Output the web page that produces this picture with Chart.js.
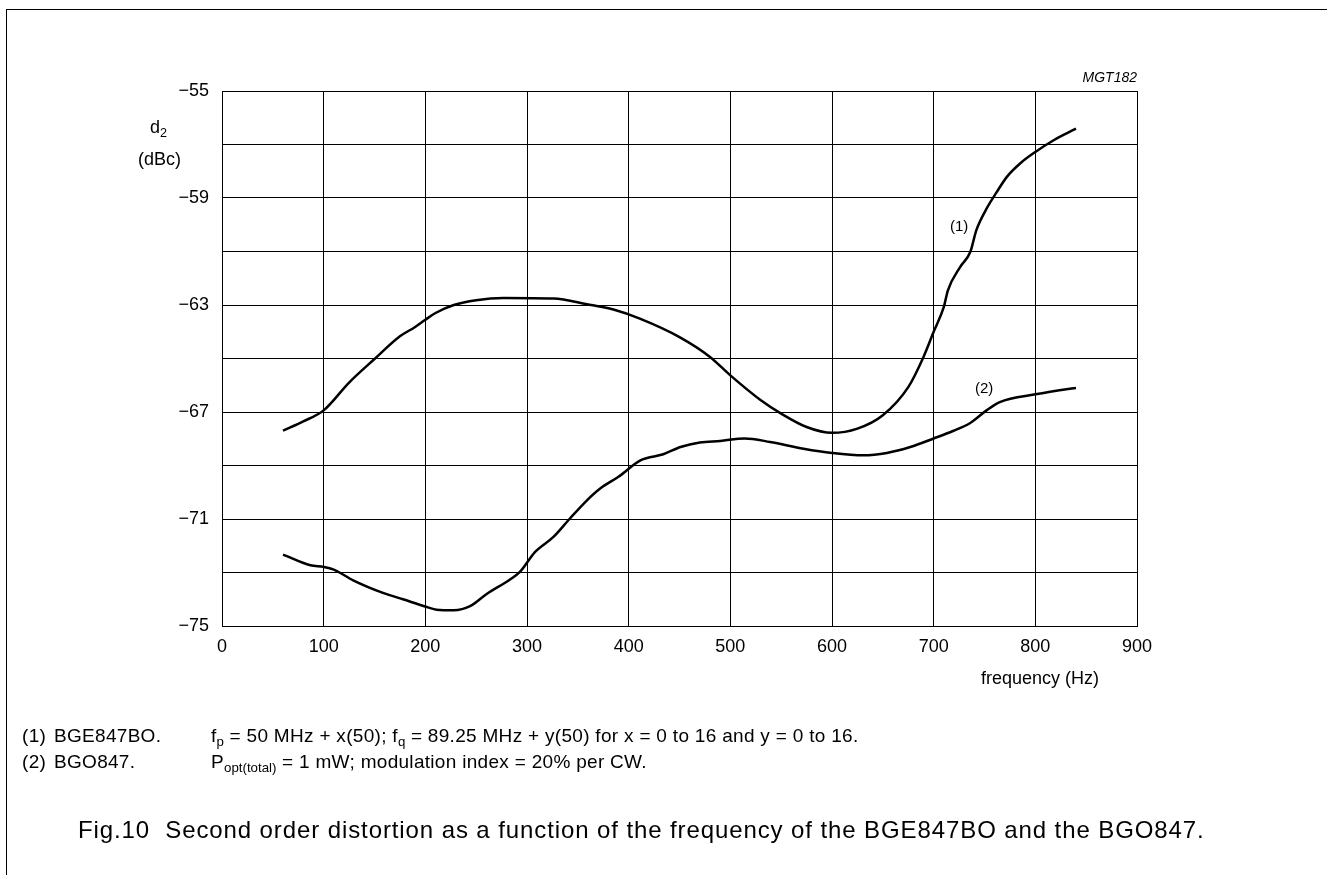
<!DOCTYPE html>
<html>
<head>
<meta charset="utf-8">
<script src="https://cdn.jsdelivr.net/npm/chart.js@4"></script>
<style>
  body { margin: 0; background: #fff; font-family: "Liberation Sans", Arial, sans-serif; color: #000; }
  #wrap { position: relative; width: 1327px; height: 875px; overflow: hidden; }
  #chart { position: absolute; left: 0; top: 0; }
  .t { position: absolute; white-space: nowrap; line-height: 1; }
  .note { font-size: 19px; letter-spacing: 0.3px; }
  .frame-top { position: absolute; left: 6px; top: 9px; width: 1321px; height: 1px; background: #000; }
  .frame-left { position: absolute; left: 6px; top: 9px; width: 1px; height: 866px; background: #000; }
  sub { font-size: 70%; vertical-align: -0.3em; line-height: 0; letter-spacing: 0; }
</style>
</head>
<body>
<div id="wrap">
  <canvas id="chart" width="1327" height="875"></canvas>
  <div class="frame-top"></div>
  <div class="frame-left"></div>

  <div class="t" style="left:1137px; top:70px; font-size:14px; font-style:italic; transform:translateX(-100%);">MGT182</div>
  <div class="t" style="left:150px; top:118px; font-size:18px;">d<sub>2</sub></div>
  <div class="t" style="left:138px; top:150px; font-size:18px;">(dBc)</div>
  <div class="t" style="left:981px; top:669px; font-size:18px;">frequency (Hz)</div>
  <div class="t" style="left:950px; top:218px; font-size:15px;">(1)</div>
  <div class="t" style="left:975px; top:380px; font-size:15px;">(2)</div>

  <div class="t note" style="left:22px; top:726px;">(1)</div>
  <div class="t note" style="left:54px; top:726px;">BGE847BO.</div>
  <div class="t note" style="left:211px; top:726px;">f<sub>p</sub> = 50 MHz + x(50); f<sub>q</sub> = 89.25 MHz + y(50) for x = 0 to 16 and y = 0 to 16.</div>
  <div class="t note" style="left:22px; top:752px;">(2)</div>
  <div class="t note" style="left:54px; top:752px;">BGO847.</div>
  <div class="t note" style="left:211px; top:752px;">P<sub>opt(total)</sub> = 1 mW; modulation index = 20% per CW.</div>

  <div class="t" style="left:78px; top:818px; font-size:24px; letter-spacing:0.9px;">Fig.10&nbsp;&nbsp;Second order distortion as a function of the frequency of the BGE847BO and the BGO847.</div>
</div>

<script>
// curve (1) BGE847BO
const freq1 = [60, 80, 100, 125, 150, 175, 190, 200, 210, 228, 250, 277, 326, 359, 385, 411, 450, 480, 500, 530, 550, 575, 600, 625, 650, 675, 690, 700, 710, 714, 726, 736, 742, 752, 762, 772, 785, 800, 818, 840];
const d2Curve1 = [-67.70, -67.35, -66.94, -65.90, -65.02, -64.17, -63.82, -63.55, -63.30, -63.00, -62.82, -62.74, -62.76, -62.97, -63.17, -63.51, -64.20, -64.94, -65.63, -66.56, -67.06, -67.56, -67.78, -67.62, -67.12, -66.07, -64.94, -64.00, -63.07, -62.45, -61.58, -61.02, -60.20, -59.40, -58.78, -58.21, -57.71, -57.28, -56.84, -56.41];

// curve (2) BGO847
const freq2 = [60, 87, 100, 110, 129, 159, 178, 199, 211, 228, 244, 260, 283, 293, 308, 326, 342, 359, 372, 390, 412, 434, 451, 470, 490, 514, 539, 572, 600, 631, 654, 677, 700, 719, 736, 752, 765, 800, 834, 840];
const d2Curve2 = [-72.33, -72.73, -72.79, -72.89, -73.29, -73.77, -74.00, -74.26, -74.39, -74.41, -74.26, -73.81, -73.27, -72.98, -72.23, -71.67, -70.99, -70.30, -69.86, -69.42, -68.80, -68.58, -68.31, -68.14, -68.08, -67.99, -68.12, -68.37, -68.53, -68.62, -68.53, -68.31, -67.99, -67.71, -67.41, -66.94, -66.63, -66.34, -66.13, -66.10];

// axis settings
const xMin = 0, xMax = 900, xStep = 100;
const yMin = -75, yMax = -55, yStep = 2, yLabelStep = 4;

function toPoints(xs, ys) {
  return xs.map((x, i) => ({ x: x, y: ys[i] }));
}

const lineStyle = {
  borderColor: "#000",
  borderWidth: 2.5,
  pointRadius: 0,
  fill: false,
  cubicInterpolationMode: "monotone"
};

new Chart("chart", {
  type: "line",
  data: {
    datasets: [
      Object.assign({ label: "(1)", data: toPoints(freq1, d2Curve1) }, lineStyle),
      Object.assign({ label: "(2)", data: toPoints(freq2, d2Curve2) }, lineStyle)
    ]
  },
  options: {
    responsive: false,
    animation: false,
    layout: { padding: { top: 91, right: 190, bottom: 0, left: 0 } },
    plugins: {
      legend: { display: false },
      tooltip: { enabled: false }
    },
    scales: {
      x: {
        type: "linear",
        min: xMin,
        max: xMax,
        afterFit: scale => { scale.height = 249; },
        grid: { color: "#000", lineWidth: 1, drawTicks: false },
        border: { color: "#000", width: 1 },
        ticks: {
          stepSize: xStep,
          color: "#000",
          padding: 10,
          maxRotation: 0,
          font: { size: 18, family: "'Liberation Sans', Arial, sans-serif" }
        }
      },
      y: {
        type: "linear",
        min: yMin,
        max: yMax,
        afterFit: scale => { scale.width = 222; },
        grid: { color: "#000", lineWidth: 1, drawTicks: false },
        border: { color: "#000", width: 1 },
        ticks: {
          stepSize: yStep,
          color: "#000",
          padding: 13,
          font: { size: 18, family: "'Liberation Sans', Arial, sans-serif" },
          callback: function(val) {
            return (val - yMin) % yLabelStep == 0 ? "\u2212" + Math.abs(val) : "";
          }
        }
      }
    }
  }
});
</script>
</body>
</html>
